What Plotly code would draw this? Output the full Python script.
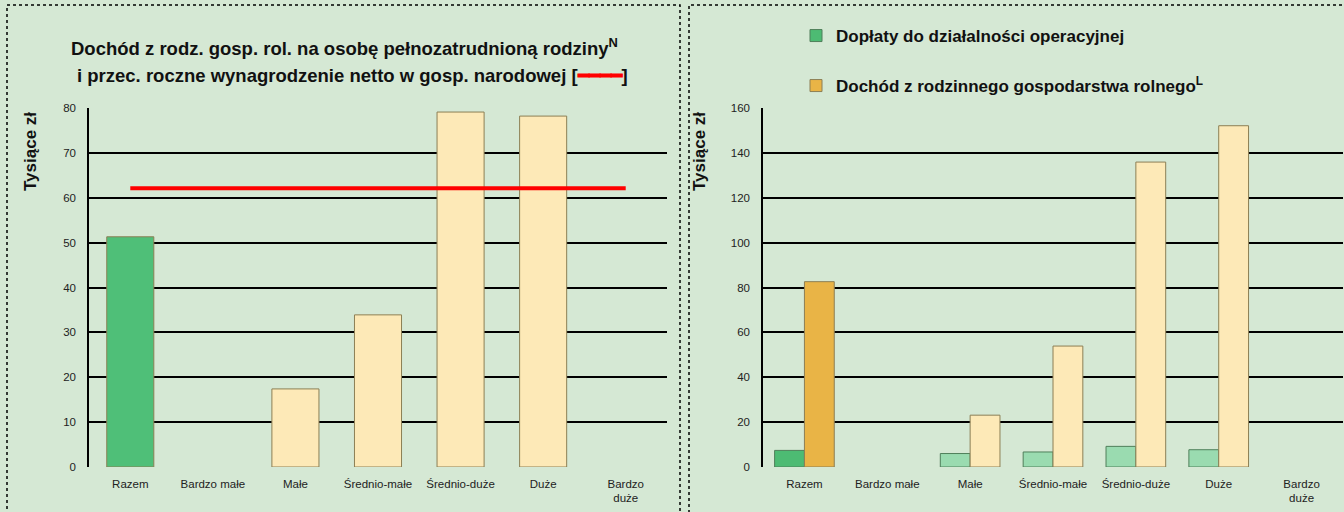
import plotly.graph_objects as go

# ---- data ----
categories = ["Razem", "Bardzo małe", "Małe", "Średnio-małe", "Średnio-duże", "Duże", "Bardzo duże"]
tick_labels = ["Razem", "Bardzo małe", "Małe", "Średnio-małe", "Średnio-duże", "Duże", "Bardzo<br>duże"]
income_per_worker = [51.3, None, 17.4, 33.9, 79.1, 78.2, None]
net_wage = 62.1
subsidies = [7.4, None, 6.0, 6.7, 9.2, 7.7, None]
farm_income = [82.6, None, 23.1, 53.9, 135.9, 152.1, None]

# ---- styles ----
BG = "#D5E8D4"
FONT = "Liberation Sans, Arial, sans-serif"
left_colors = ["#4FBF78"] + ["#FDE9B7"] * 6
green_colors = ["#4DBB73"] + ["#9ADBB0"] * 6
tan_colors = ["#E9B446"] + ["#FDE9B7"] * 6

fig = go.Figure()

fig.add_trace(go.Bar(
    x=tick_labels, y=income_per_worker, xaxis="x", yaxis="y",
    marker=dict(color=left_colors, line=dict(color="#8C7F55", width=1)),
    width=0.57, offset=-0.285, showlegend=False,
))
fig.add_trace(go.Scatter(
    x=[tick_labels[0], tick_labels[-1]], y=[net_wage, net_wage], xaxis="x", yaxis="y",
    mode="lines", line=dict(color="#FF0000", width=4), showlegend=False,
))

fig.add_trace(go.Bar(
    x=tick_labels, y=subsidies, xaxis="x2", yaxis="y2",
    name="<b>Dopłaty do działalności operacyjnej</b>",
    marker=dict(color=green_colors, line=dict(color="#4F7F5A", width=1)),
    width=0.36, offset=-0.36, legend="legend",
))
fig.add_trace(go.Bar(
    x=tick_labels, y=farm_income, xaxis="x2", yaxis="y2",
    name="<b>Dochód z rodzinnego gospodarstwa rolnego<sup>L</sup></b>",
    marker=dict(color=tan_colors, line=dict(color="#8C7F55", width=1)),
    width=0.36, offset=0.0, legend="legend2",
))

W, H = 1344, 512
def px(x): return x / W
def py(y): return 1 - y / H

TICKFONT = dict(family=FONT, size=11.5, color="#222222")
axis_common = dict(
    tickfont=TICKFONT,
    showline=True, linecolor="#000000", linewidth=1.5,
    showgrid=True, gridcolor="#000000", gridwidth=1.5,
    zeroline=False, ticks="", fixedrange=True, automargin=False,
    ticklabelstandoff=9,
)
xaxis_common = dict(
    type="category", categoryorder="array", categoryarray=tick_labels,
    tickfont=TICKFONT, showline=False, showgrid=False, ticks="",
    automargin=False, ticklabelstandoff=8, fixedrange=True,
)

fig.update_layout(
    template="none",
    width=W, height=H,
    margin=dict(l=0, r=0, t=0, b=0, autoexpand=False),
    paper_bgcolor=BG, plot_bgcolor=BG,
    font=dict(family=FONT, color="#111111"),
    hovermode=False,
    xaxis=dict(domain=[px(89), px(667)], anchor="y", **xaxis_common),
    yaxis=dict(domain=[py(467), py(108)], anchor="x", range=[0, 80], dtick=10, **axis_common),
    xaxis2=dict(domain=[px(763), px(1343)], anchor="y2", **xaxis_common),
    yaxis2=dict(domain=[py(467), py(108)], anchor="x2", range=[0, 160], dtick=20, **axis_common),
    legend=dict(x=px(796), y=py(18), xanchor="left", yanchor="top",
                bgcolor="rgba(0,0,0,0)", font=dict(family=FONT, size=17, color="#111111"),
                itemwidth=30),
    legend2=dict(x=px(796), y=py(68), xanchor="left", yanchor="top",
                 bgcolor="rgba(0,0,0,0)", font=dict(family=FONT, size=17, color="#111111"),
                 itemwidth=30),
    showlegend=True,
)

# panel borders (dotted)
fig.add_shape(type="rect", xref="paper", yref="paper",
              x0=px(7), x1=px(680), y0=py(540), y1=py(5),
              line=dict(color="#000000", width=1.5, dash="dot"), layer="below")
fig.add_shape(type="rect", xref="paper", yref="paper",
              x0=px(689), x1=px(1360), y0=py(540), y1=py(5),
              line=dict(color="#000000", width=1.5, dash="dot"), layer="below")

# left title (two lines)
fig.add_annotation(
    xref="paper", yref="paper", x=px(345), y=py(47), xanchor="center", yanchor="middle",
    text="<b>Dochód z rodz. gosp. rol. na osobę pełnozatrudnioną rodziny<sup>N</sup></b>",
    showarrow=False, font=dict(family=FONT, size=18.5, color="#111111"),
)
fig.add_annotation(
    xref="paper", yref="paper", x=px(352), y=py(75), xanchor="center", yanchor="middle",
    text="<b>i przec. roczne wynagrodzenie netto w gosp. narodowej [<span style='color:#FF0000'>━━━━</span>]</b>",
    showarrow=False, font=dict(family=FONT, size=18.5, color="#111111"),
)

# y-axis titles
for xc in (30, 699):
    fig.add_annotation(
        xref="paper", yref="paper", x=px(xc), y=py(152), xanchor="center", yanchor="middle",
        text="<b>Tysiące zł</b>", textangle=-90, showarrow=False,
        font=dict(family=FONT, size=17, color="#111111"),
    )

fig.write_html("out.html", config={"displayModeBar": False},
               post_script="document.body.style.margin='0';")
